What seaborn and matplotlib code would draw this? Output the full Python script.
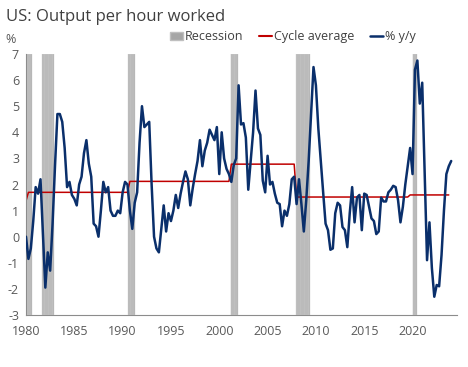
import matplotlib
matplotlib.use("Agg")
import matplotlib.pyplot as plt
import matplotlib.patches as mpatches
from matplotlib.lines import Line2D
import numpy as np
import pandas as pd
import seaborn as sns

# Productividad: % y/y trimestral, 1980Q1 - 2024Q1
pct_yy = [
    0.0, -0.85, -0.45, 0.6,      # 1980
    1.9, 1.65, 2.2, 0.1,         # 1981
    -1.95, -0.6, -1.3, 0.5,      # 1982
    2.7, 4.7, 4.7, 4.4,          # 1983
    3.4, 1.9, 2.1, 1.6,          # 1984
    1.45, 1.2, 2.0, 2.3,         # 1985
    3.2, 3.7, 2.8, 2.3,          # 1986
    0.5, 0.4, 0.0, 1.0,          # 1987
    2.1, 1.7, 1.9, 1.0,          # 1988
    0.8, 0.8, 1.0, 0.9,          # 1989
    1.7, 2.1, 2.0, 1.0,          # 1990
    0.3, 1.3, 1.7, 3.6,          # 1991
    5.0, 4.2, 4.3, 4.4,          # 1992
    2.0, 0.0, -0.45, -0.6,       # 1993
    0.3, 1.2, 0.2, 0.9,          # 1994
    0.6, 1.0, 1.6, 1.1,          # 1995
    1.65, 2.1, 2.5, 2.2,         # 1996
    1.2, 1.85, 2.4, 2.9,         # 1997
    3.7, 2.7, 3.3, 3.6,          # 1998
    4.1, 3.9, 3.7, 4.2,          # 1999
    2.4, 4.0, 3.0, 2.6,          # 2000
    2.4, 2.1, 2.75, 3.0,         # 2001
    5.8, 4.3, 4.35, 3.8,         # 2002
    1.8, 2.9, 4.0, 5.6,          # 2003
    4.15, 3.9, 2.15, 1.7,        # 2004
    3.1, 2.0, 2.1, 1.65,         # 2005
    1.3, 1.25, 0.4, 1.0,         # 2006
    0.8, 1.25, 2.2, 2.3,         # 2007
    1.25, 2.2, 1.25, 0.2,        # 2008
    1.4, 2.9, 4.7, 6.5,          # 2009
    5.8, 4.15, 2.9, 1.7,         # 2010
    0.5, 0.25, -0.5, -0.45,      # 2011
    0.9, 1.3, 1.2, 0.37,         # 2012
    0.25, -0.4, 0.9, 1.9,        # 2013
    0.55, 1.5, 1.6, 0.25,        # 2014
    1.65, 1.6, 1.15, 0.7,        # 2015
    0.6, 0.1, 0.2, 1.5,          # 2016
    1.35, 1.35, 1.7, 1.8,        # 2017
    1.95, 1.9, 1.4, 0.55,        # 2018
    1.15, 2.0, 2.7, 3.4,         # 2019
    2.4, 6.4, 6.75, 5.1,         # 2020
    5.9, 2.5, -0.9, 0.55,        # 2021
    -1.2, -2.3, -1.85, -1.9,     # 2022
    -0.7, 1.0, 2.4, 2.7,         # 2023
    2.9,                         # 2024
]

# Promedio por ciclo (inicio de cada tramo, valor)
cycle_start = ["1980Q1", "1980Q2", "1990Q4", "2001Q2", "2008Q1", "2019Q4"]
cycle_value = [1.37, 1.70, 2.12, 2.78, 1.52, 1.60]
cycle_end = "2023Q4"

# Recesiones (mes inicial, mes final)
rec_start = ["1980-01", "1981-09", "1990-08", "2001-03", "2007-12", "2020-01"]
rec_end = ["1980-07", "1982-11", "1991-03", "2001-11", "2009-05", "2020-05"]

quarters = pd.period_range("1980Q1", "2024Q1", freq="Q")
df = pd.DataFrame({"q": quarters, "yy": pct_yy})
df["x"] = df["q"].dt.year + (df["q"].dt.quarter - 1) / 4

starts = pd.PeriodIndex(cycle_start, freq="Q")
df["cycle"] = np.nan
for s, v in zip(starts, cycle_value):
    df.loc[df["q"] >= s, "cycle"] = v
df.loc[df["q"] > pd.Period(cycle_end, freq="Q"), "cycle"] = np.nan

sns.set_theme(style="white")
plt.rcParams["font.family"] = ["Open Sans", "DejaVu Sans"]
plt.rcParams["axes.unicode_minus"] = False

fig = plt.figure(figsize=(4.68, 3.67), dpi=100)
ax = fig.add_axes([26 / 468, 1 - 315 / 367, (457 - 26) / 468, (315 - 54) / 367])

grey_rec = "#a6a6a6"
for a, b in zip(rec_start, rec_end):
    months = pd.period_range(a, b, freq="M")
    mx = months.year + (months.month - 1) / 12
    ax.bar(mx, 10, bottom=-3, width=1 / 12, align="edge", color=grey_rec,
           edgecolor="#cfcfcf", linewidth=0.3, zorder=1)

sns.lineplot(data=df, x="x", y="cycle", color="#c00000", linewidth=1.1, ax=ax, zorder=2)
sns.lineplot(data=df, x="x", y="yy", color="#0a2f6b", linewidth=1.8, ax=ax, zorder=3)

ax.set_xlim(1980, 2024.6)
ax.set_ylim(-3, 7)
ax.set_xticks(range(1980, 2021, 5))
ax.set_yticks(range(-3, 8))
ax.set_xlabel("")
ax.set_ylabel("")

for side in ["top", "right"]:
    ax.spines[side].set_visible(False)
for side in ["left", "bottom"]:
    ax.spines[side].set_color("#8c8c8c")
    ax.spines[side].set_linewidth(0.8)
ax.tick_params(axis="both", colors="#8c8c8c", labelcolor="#595959", labelsize=9,
               length=3, width=0.8, direction="out", pad=2)
ax.tick_params(axis="x", pad=4)

fig.text(0.012, 0.953, "US: Output per hour worked", fontsize=12, color="#404040",
         va="center", ha="left")
fig.text(0.012, 0.893, "%", fontsize=9, color="#595959", va="center", ha="left")

handles = [
    mpatches.Patch(facecolor=grey_rec, edgecolor="#bfbfbf", label="Recession"),
    Line2D([0], [0], color="#c00000", linewidth=1.5, label="Cycle average"),
    Line2D([0], [0], color="#0a2f6b", linewidth=1.8, label="% y/y"),
]
fig.legend(handles=handles, loc="center right", bbox_to_anchor=(0.912, 0.9), ncol=3,
           frameon=False, fontsize=9, handlelength=1.0, handleheight=0.6,
           handletextpad=0.15, columnspacing=1.3, labelcolor="#404040")

fig.savefig("out.png", dpi=100)
